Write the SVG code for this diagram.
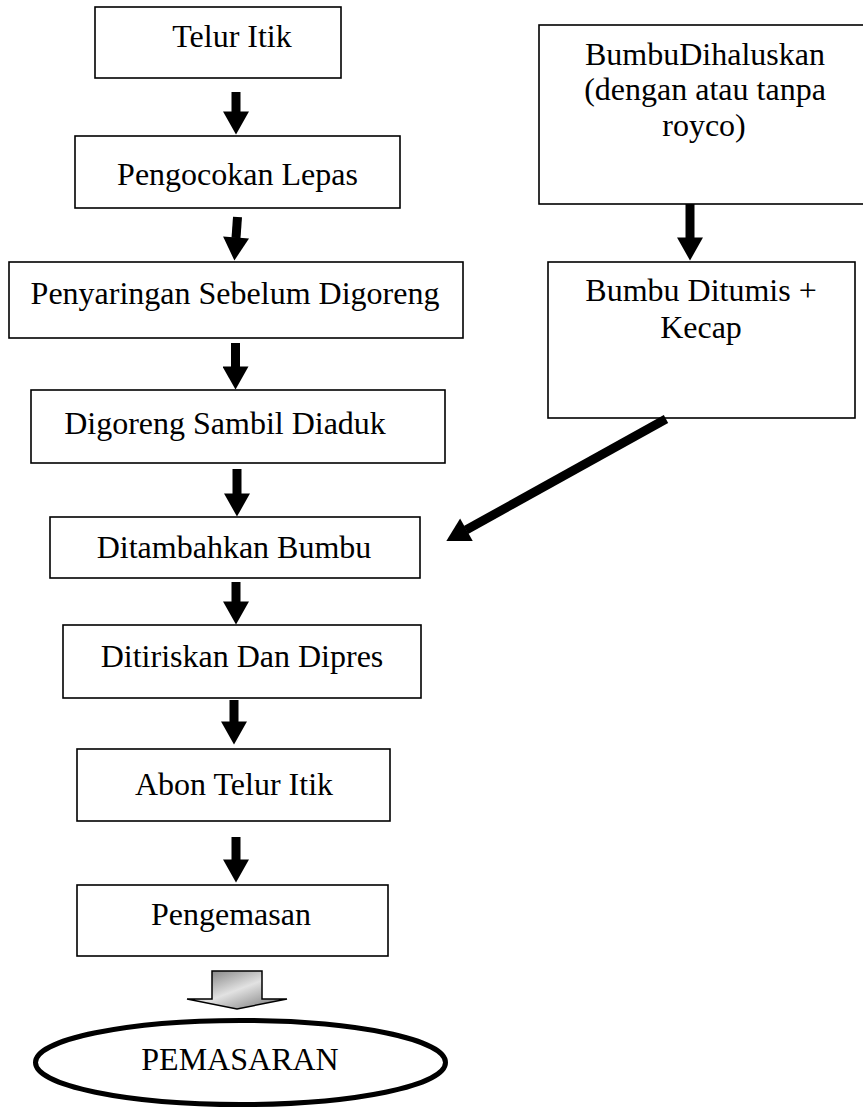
<svg xmlns="http://www.w3.org/2000/svg" width="863" height="1109" viewBox="0 0 863 1109">
<style>
.box{fill:#fff;stroke:#000;stroke-width:1.6}
.t{font-family:"Liberation Serif","Times New Roman",serif;font-size:32px;fill:#000;text-anchor:middle}
.arr{stroke:#000;stroke-width:9;fill:none}
</style>
<defs>
<marker id="ah" markerUnits="userSpaceOnUse" markerWidth="26" markerHeight="26" viewBox="0 0 23 26" refX="0.5" refY="13" orient="auto">
<path d="M0,0 L23,13 L0,26 Z" fill="#000"/>
</marker>
<linearGradient id="g" x1="0" y1="0" x2="1" y2="1">
<stop offset="0" stop-color="#6a6a6a"/>
<stop offset="0.5" stop-color="#e2e2e2"/>
<stop offset="1" stop-color="#6a6a6a"/>
</linearGradient>
</defs>
<rect width="863" height="1109" fill="#fff"/>
<g id="n1"><rect class="box" x="95" y="7" width="246" height="71"/><text class="t" x="232" y="47">Telur Itik</text></g>
<g id="n2"><rect class="box" x="75" y="136" width="325" height="72"/><text class="t" x="237.5" y="185">Pengocokan Lepas</text></g>
<g id="n3"><rect class="box" x="9" y="262" width="454" height="76"/><text class="t" x="235" y="304">Penyaringan Sebelum Digoreng</text></g>
<g id="n4"><rect class="box" x="31" y="390" width="414" height="73"/><text class="t" x="225" y="434">Digoreng Sambil Diaduk</text></g>
<g id="n5"><rect class="box" x="50" y="517" width="370" height="61"/><text class="t" x="234" y="558">Ditambahkan Bumbu</text></g>
<g id="n6"><rect class="box" x="63" y="625" width="358" height="73"/><text class="t" x="242" y="667">Ditiriskan Dan Dipres</text></g>
<g id="n7"><rect class="box" x="77" y="749" width="313" height="72"/><text class="t" x="234" y="795">Abon Telur Itik</text></g>
<g id="n8"><rect class="box" x="77" y="885" width="311" height="71"/><text class="t" x="231" y="925">Pengemasan</text></g>
<g id="n9"><ellipse cx="240.5" cy="1062.5" rx="205" ry="42" fill="#fff" stroke="#000" stroke-width="5"/><text class="t" x="240" y="1070">PEMASARAN</text></g>
<g id="r1"><rect class="box" x="539" y="25" width="332" height="179"/>
<text class="t" x="705" y="65">BumbuDihaluskan</text>
<text class="t" x="705" y="100">(dengan atau tanpa</text>
<text class="t" x="704" y="136">royco)</text></g>
<g id="r2"><rect class="box" x="548" y="262" width="307" height="156"/>
<text class="t" x="701" y="301">Bumbu Ditumis +</text>
<text class="t" x="701" y="338">Kecap</text></g>
<g id="connectors">
<line class="arr" x1="236" y1="92" x2="236" y2="112" marker-end="url(#ah)"/>
<line class="arr" x1="237.5" y1="217" x2="236" y2="238" marker-end="url(#ah)"/>
<line class="arr" x1="235.5" y1="343" x2="235.5" y2="367" marker-end="url(#ah)"/>
<line class="arr" x1="237" y1="469" x2="237" y2="494" marker-end="url(#ah)"/>
<line class="arr" x1="236" y1="582" x2="236" y2="602" marker-end="url(#ah)"/>
<line class="arr" x1="234" y1="700" x2="234" y2="722" marker-end="url(#ah)"/>
<line class="arr" x1="236" y1="837" x2="236" y2="860" marker-end="url(#ah)"/>
<line class="arr" x1="690" y1="204" x2="690" y2="238" marker-end="url(#ah)"/>
<line class="arr" x1="666" y1="419" x2="466" y2="530" marker-end="url(#ah)"/>
<polygon points="212,971 262,971 262,999 287,999 237,1009 187,999 212,999" fill="url(#g)" stroke="#000" stroke-width="1.5"/>
</g>
</svg>
